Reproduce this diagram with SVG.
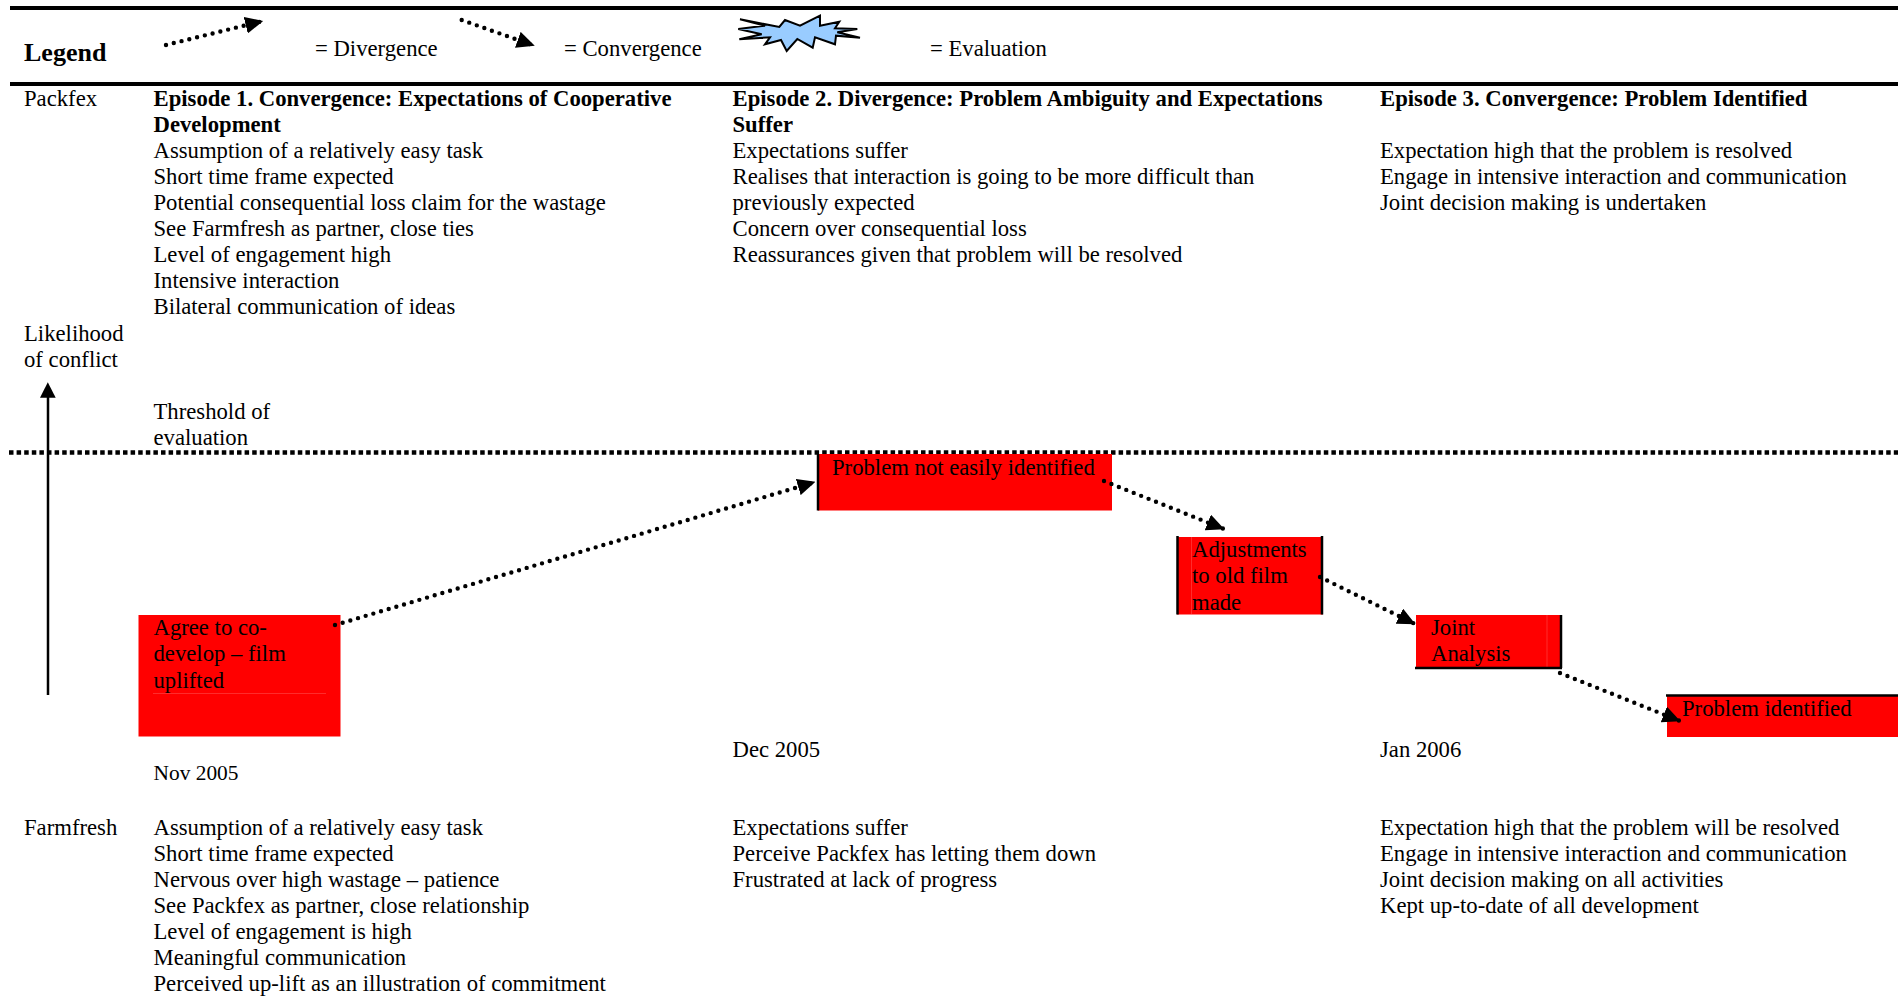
<svg xmlns="http://www.w3.org/2000/svg" width="1898" height="996" viewBox="0 0 1898 996">
<style>
text{font-family:"Liberation Serif","Times New Roman",serif;font-size:22.7px;fill:#000}
.b{font-weight:bold}
.box{fill:#f00}
.edge{stroke:#000;stroke-width:2.5;fill:none}
.hair{stroke:#ff2c2c;stroke-width:1;fill:none}
.dot{stroke:#000;stroke-width:4.4;stroke-dasharray:0 8;stroke-linecap:round;fill:none}
</style>
<defs><marker id="ah" markerUnits="userSpaceOnUse" markerWidth="18" markerHeight="17" refX="17.5" refY="8.5" orient="auto"><path d="M0 0L18 8.5L0 17z" fill="#000"/></marker></defs>
<rect width="1898" height="996" fill="#fff"/>
<rect x="10" y="6" width="1888" height="4" fill="#000"/>
<rect x="10" y="82" width="1888" height="4" fill="#000"/>
<g id="legend">
<text class="b" x="24" y="61" style="font-size:26px">Legend</text>
<text x="315" y="56.2">= Divergence</text>
<text x="564" y="56.2">= Convergence</text>
<text x="930" y="56.2">= Evaluation</text>
<path d="M166 45L262.7 21" class="dot" marker-end="url(#ah)"/>
<path d="M461.7 20L534.3 45.7" class="dot" marker-end="url(#ah)"/>
<polygon id="star" points="740,19.3 779.3,27 785,20 800,25.7 820,15.7 820,25.7 839.3,21.7 835,28.3 857.3,29 837.3,32.3 860,37.7 836,35.7 835,44.3 815,37.3 812.7,47.7 797.3,39 786.7,51 781,40 765,44.3 770,37.3 739.3,39.3 761.7,34.3 738.3,29 765,25.7" fill="#99ccff" stroke="#000" stroke-width="2"/>
</g>
<g id="packfex">
<text x="24" y="106.3">Packfex</text>
<g transform="translate(153.5 0.3)"><text class="b" y="106">Episode 1. Convergence: Expectations of Cooperative</text><text class="b" y="132">Development</text>
<text y="158">Assumption of a relatively easy task</text><text y="184">Short time frame expected</text><text y="210">Potential consequential loss claim for the wastage</text><text y="236">See Farmfresh as partner, close ties</text><text y="262">Level of engagement high</text><text y="288">Intensive interaction</text><text y="314">Bilateral communication of ideas</text></g>
<g transform="translate(732.5 0.3)"><text class="b" y="106">Episode 2. Divergence: Problem Ambiguity and Expectations</text><text class="b" y="132">Suffer</text>
<text y="158">Expectations suffer</text><text y="184">Realises that interaction is going to be more difficult than</text><text y="210">previously expected</text><text y="236">Concern over consequential loss</text><text y="262">Reassurances given that problem will be resolved</text></g>
<g transform="translate(1380 0.3)"><text class="b" y="106">Episode 3. Convergence: Problem Identified</text>
<text y="158">Expectation high that the problem is resolved</text><text y="184">Engage in intensive interaction and communication</text><text y="210">Joint decision making is undertaken</text></g>
</g>
<g id="axis">
<text x="24" y="341.2">Likelihood</text><text x="24" y="367.2">of conflict</text>
<text x="153.5" y="419.2">Threshold of</text><text x="153.5" y="445.2">evaluation</text>
<path d="M48 695V390" stroke="#000" stroke-width="2.5" fill="none"/><path d="M47.8 382.3L40 397.7H55.7z" fill="#000"/>
</g>
<path id="threshold" d="M9 452.5H1898" stroke="#000" stroke-width="4.7" stroke-dasharray="4.5 3.1" fill="none"/>
<g id="n1"><rect class="box" x="138.5" y="615" width="202" height="121.5"/><path class="hair" d="M153 693.5H326"/><text x="153.5" y="635.2">Agree to co-</text><text x="153.5" y="661.2">develop – film</text><text x="153.5" y="688.2">uplifted</text></g>
<g id="n2"><rect class="box" x="818" y="454" width="294" height="56.5"/><path class="edge" d="M818 454V510.5"/><text x="832" y="475">Problem not easily identified</text></g>
<g id="n3"><rect class="box" x="1177" y="537" width="146" height="77.5"/><path class="hair" d="M1191.5 537V614"/><path class="edge" d="M1177.5 536V614.5M1322 536V614.5"/><text x="1192" y="557">Adjustments</text><text x="1192" y="583">to old film</text><text x="1192" y="610">made</text></g>
<g id="n4"><rect class="box" x="1416" y="615" width="146" height="53"/><path class="hair" d="M1547 615V667"/><path class="edge" d="M1561 615V668M1415 668H1562"/><text x="1431" y="635.2">Joint</text><text x="1431" y="661.2">Analysis</text></g>
<g id="n5"><rect class="box" x="1667" y="695" width="231" height="42"/><path class="edge" d="M1666 695.5H1898"/><text x="1682" y="716">Problem identified</text></g>
<g id="connectors">
<path class="dot" d="M335 625L815 482" marker-end="url(#ah)"/>
<path class="dot" d="M1104 481L1224 529" marker-end="url(#ah)"/>
<path class="dot" d="M1320 577L1415 624" marker-end="url(#ah)"/>
<path class="dot" d="M1560 673L1680 721" marker-end="url(#ah)"/>
</g>
<g id="dates"><text x="153.5" y="780.2" style="font-size:21.4px">Nov 2005</text><text x="732.5" y="757.2">Dec 2005</text><text x="1380" y="757.2">Jan 2006</text></g>
<g id="farmfresh">
<text x="24" y="835.2">Farmfresh</text>
<g transform="translate(153.5 0.2)"><text y="835">Assumption of a relatively easy task</text><text y="861">Short time frame expected</text><text y="887">Nervous over high wastage – patience</text><text y="913">See Packfex as partner, close relationship</text><text y="939">Level of engagement is high</text><text y="965">Meaningful communication</text><text y="991">Perceived up-lift as an illustration of commitment</text></g>
<g transform="translate(732.5 0.2)"><text y="835">Expectations suffer</text><text y="861">Perceive Packfex has letting them down</text><text y="887">Frustrated at lack of progress</text></g>
<g transform="translate(1380 0.2)"><text y="835">Expectation high that the problem will be resolved</text><text y="861">Engage in intensive interaction and communication</text><text y="887">Joint decision making on all activities</text><text y="913">Kept up-to-date of all development</text></g>
</g>
</svg>
